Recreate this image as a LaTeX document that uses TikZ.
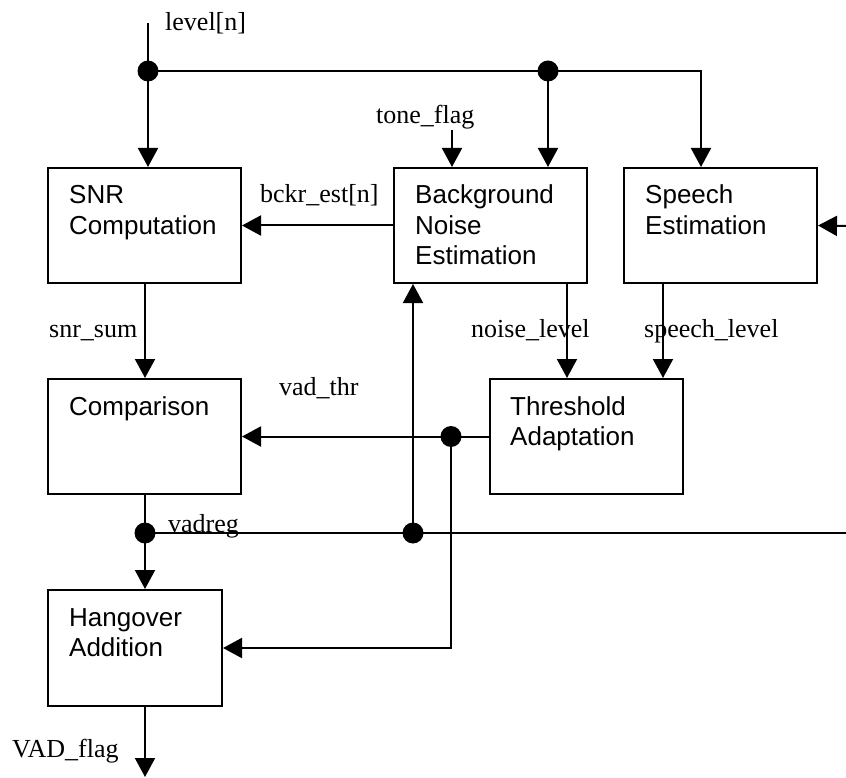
\documentclass[tikz,border=0pt]{standalone}
\usepackage{fontspec}
\setmainfont{Liberation Serif}
\newfontfamily\boxfont{Liberation Sans}
\usetikzlibrary{arrows.meta}
\begin{document}
\begin{tikzpicture}[x=1pt,y=-1pt,
  blk/.style={draw,line width=2pt,minimum width=193pt,minimum height=115pt,inner sep=0pt},
  btxt/.style={anchor=base west,inner sep=0pt,align=left,font=\boxfont\fontsize{26}{30}\selectfont},
  lbl/.style={anchor=base west,inner sep=0pt,font=\fontsize{26}{30}\selectfont},
  wire/.style={line width=2pt},
  arr/.style={wire,-{Triangle[length=19pt,width=20pt]}},
  dot/.style={circle,fill,inner sep=0pt,minimum size=21pt}]
\useasboundingbox (0,0) rectangle (846,778);
% blocks
\node[blk] (snr) at (144.5,225.5) {};
\node[blk] (bne) at (490,225.5) {};
\node[blk] (spe) at (720.5,225.5) {};
\node[blk] (cmp) at (144.5,436.5) {};
\node[blk] (thr) at (586.5,436.5) {};
\node[blk,minimum width=174pt,minimum height=116pt] (hng) at (135,648) {};
% text nodes: anchor is the baseline of the last line
\node[btxt] (snrt) at (69,234) {SNR\\Computation};
\node[btxt] (bnet) at (415,264) {Background\\Noise\\Estimation};
\node[btxt] (spet) at (645,234) {Speech\\Estimation};
\node[btxt] (cmpt) at (69,415) {Comparison};
\node[btxt] (thrt) at (510,445) {Threshold\\Adaptation};
\node[btxt] (hngt) at (69,656) {Hangover\\Addition};
% coordinates
\coordinate (top) at (148,23);
\coordinate (sp) at (701,71);
\coordinate (tf) at (452,130);
\coordinate (ri) at (846,226);
\coordinate (nl) at (567,300);
\coordinate (sl) at (663,300);
\coordinate (ss) at (145,300);
\coordinate (ve) at (846,533);
\coordinate (out) at (145,777);
% dots
\node[dot] (d1) at (148,71) {};
\node[dot] (d2) at (548,71) {};
\node[dot] (d3) at (451,436.5) {};
\node[dot] (d4) at (145,533) {};
\node[dot] (d5) at (413,533) {};
% connectors
\draw[arr] (top) -- (top |- snr.north);
\draw[arr] (d1.center) -- (sp) -- (sp |- spe.north);
\draw[arr] (d2.center) -- (d2 |- bne.north);
\draw[arr] (tf) -- (tf |- bne.north);
\draw[arr] (ri) -- (spe.east);
\draw[arr] (bne.west) -- (snr.east);
\draw[arr] (nl |- bne.south) -- (nl |- thr.north);
\draw[arr] (sl |- spe.south) -- (sl |- thr.north);
\draw[arr] (ss |- snr.south) -- (ss |- cmp.north);
\draw[arr] (thr.west) -- (cmp.east);
\draw[arr] (d3.center) |- (hng.east);
\draw[wire] (ss |- cmp.south) -- (d4.center);
\draw[arr] (d4.center) -- (d4 |- hng.north);
\draw[wire] (d4.center) -- (ve);
\draw[arr] (d5.center) -- (d5 |- bne.south);
\draw[arr] (d4 |- hng.south) -- (out);
% labels
\node[lbl] (l1) at (165,31) {level[n]};
\node[lbl] (l2) at (376,124) {tone\_flag};
\node[lbl] (l3) at (260,203) {bckr\_est[n]};
\node[lbl] (l4) at (49,337) {snr\_sum};
\node[lbl] (l5) at (471,337) {noise\_level};
\node[lbl] (l6) at (644,337) {speech\_level};
\node[lbl] (l7) at (279,395) {vad\_thr};
\node[lbl] (l8) at (168,532) {vadreg};
\node[lbl] (l9) at (12,757) {VAD\_flag};
\end{tikzpicture}
\end{document}
